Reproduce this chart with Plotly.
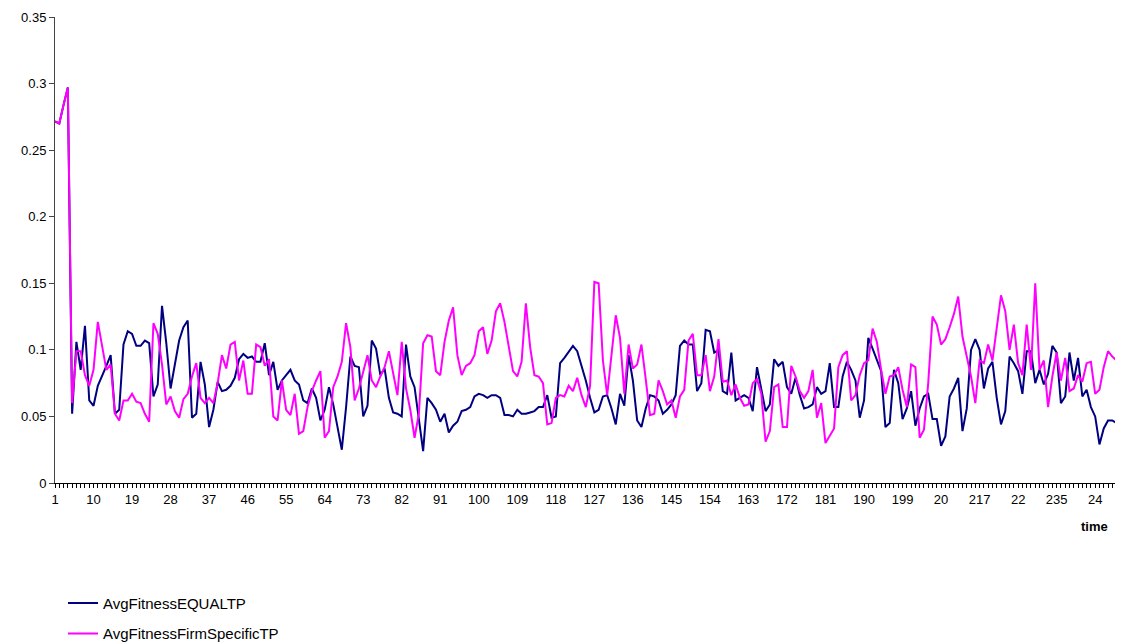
import plotly.graph_objects as go

time_idx = list(range(1, 251))

equal_tp = [
    0.2715, 0.270, 0.284, 0.297, 0.052, 0.106, 0.085, 0.118, 0.062, 0.058,
    0.073, 0.080, 0.088, 0.096, 0.052, 0.055, 0.104, 0.114, 0.112, 0.103,
    0.103, 0.107, 0.105, 0.065, 0.074, 0.133, 0.105, 0.071, 0.090, 0.107,
    0.117, 0.122, 0.049, 0.052, 0.091, 0.074, 0.042, 0.055, 0.076, 0.069,
    0.070, 0.073, 0.079, 0.093, 0.097, 0.094, 0.095, 0.091, 0.091, 0.105,
    0.081, 0.091, 0.070, 0.077, 0.081, 0.085, 0.077, 0.074, 0.062, 0.060,
    0.071, 0.064, 0.047, 0.055, 0.072, 0.059, 0.042, 0.025, 0.057, 0.095,
    0.088, 0.087, 0.050, 0.058, 0.107, 0.101, 0.081, 0.086, 0.064, 0.053,
    0.052, 0.050, 0.104, 0.080, 0.072, 0.047, 0.024, 0.064, 0.060, 0.055,
    0.046, 0.052, 0.038, 0.043, 0.046, 0.054, 0.055, 0.057, 0.065, 0.067,
    0.066, 0.064, 0.066, 0.066, 0.064, 0.051, 0.051, 0.050, 0.055, 0.052,
    0.052, 0.053, 0.054, 0.057, 0.057, 0.066, 0.049, 0.050, 0.090, 0.094,
    0.099, 0.103, 0.099, 0.088, 0.077, 0.064, 0.053, 0.055, 0.065, 0.066,
    0.056, 0.044, 0.067, 0.058, 0.096, 0.077, 0.047, 0.042, 0.056, 0.066,
    0.065, 0.062, 0.052, 0.055, 0.059, 0.066, 0.103, 0.107, 0.104, 0.104,
    0.069, 0.075, 0.115, 0.114, 0.098, 0.100, 0.069, 0.067, 0.098, 0.062,
    0.064, 0.066, 0.064, 0.054, 0.087, 0.070, 0.054, 0.059, 0.093, 0.088,
    0.091, 0.072, 0.067, 0.079, 0.066, 0.056, 0.057, 0.059, 0.072, 0.067,
    0.069, 0.090, 0.057, 0.057, 0.080, 0.091, 0.085, 0.077, 0.049, 0.062,
    0.109, 0.101, 0.092, 0.084, 0.042, 0.045, 0.085, 0.075, 0.048, 0.056,
    0.069, 0.043, 0.056, 0.065, 0.067, 0.048, 0.048, 0.028, 0.035, 0.065,
    0.071, 0.079, 0.039, 0.056, 0.100, 0.108, 0.100, 0.071, 0.086, 0.091,
    0.064, 0.044, 0.054, 0.095, 0.090, 0.084, 0.067, 0.099, 0.099, 0.075,
    0.085, 0.074, 0.082, 0.103, 0.098, 0.060, 0.065, 0.098, 0.077, 0.094,
    0.065, 0.070, 0.057, 0.050, 0.029, 0.041, 0.047, 0.047, 0.045, 0.055,
]

firm_specific_tp = [
    0.2715, 0.270, 0.284, 0.297, 0.060, 0.099, 0.099, 0.081, 0.073, 0.085,
    0.121, 0.104, 0.085, 0.089, 0.052, 0.047, 0.062, 0.062, 0.067, 0.061,
    0.060, 0.052, 0.046, 0.120, 0.112, 0.089, 0.059, 0.065, 0.054, 0.049,
    0.063, 0.067, 0.080, 0.090, 0.064, 0.060, 0.064, 0.060, 0.075, 0.096,
    0.086, 0.104, 0.106, 0.077, 0.092, 0.067, 0.067, 0.104, 0.102, 0.088,
    0.093, 0.050, 0.047, 0.077, 0.055, 0.051, 0.067, 0.037, 0.039, 0.057,
    0.069, 0.077, 0.084, 0.034, 0.039, 0.072, 0.080, 0.091, 0.120, 0.102,
    0.062, 0.071, 0.083, 0.096, 0.077, 0.072, 0.080, 0.087, 0.099, 0.082,
    0.066, 0.106, 0.071, 0.055, 0.034, 0.052, 0.105, 0.111, 0.110, 0.084,
    0.081, 0.106, 0.122, 0.132, 0.096, 0.081, 0.088, 0.090, 0.096, 0.114,
    0.117, 0.097, 0.107, 0.129, 0.135, 0.121, 0.104, 0.084, 0.080, 0.091,
    0.135, 0.102, 0.081, 0.080, 0.075, 0.044, 0.045, 0.064, 0.066, 0.065,
    0.073, 0.069, 0.079, 0.066, 0.057, 0.073, 0.151, 0.150, 0.092, 0.066,
    0.096, 0.126, 0.109, 0.067, 0.104, 0.086, 0.089, 0.104, 0.078, 0.051,
    0.052, 0.077, 0.069, 0.059, 0.062, 0.049, 0.065, 0.070, 0.107, 0.112,
    0.081, 0.081, 0.096, 0.069, 0.080, 0.108, 0.076, 0.077, 0.066, 0.074,
    0.064, 0.058, 0.059, 0.075, 0.078, 0.067, 0.031, 0.039, 0.072, 0.074,
    0.042, 0.042, 0.088, 0.080, 0.069, 0.064, 0.069, 0.085, 0.049, 0.060,
    0.030, 0.035, 0.041, 0.087, 0.096, 0.099, 0.062, 0.066, 0.081, 0.090,
    0.092, 0.116, 0.106, 0.085, 0.067, 0.080, 0.081, 0.087, 0.070, 0.057,
    0.089, 0.087, 0.034, 0.040, 0.075, 0.125, 0.119, 0.104, 0.108, 0.117,
    0.127, 0.140, 0.110, 0.095, 0.080, 0.060, 0.092, 0.090, 0.104, 0.092,
    0.117, 0.141, 0.129, 0.100, 0.119, 0.090, 0.081, 0.119, 0.085, 0.150,
    0.085, 0.092, 0.057, 0.080, 0.098, 0.077, 0.094, 0.069, 0.071, 0.081,
    0.076, 0.090, 0.091, 0.067, 0.070, 0.087, 0.099, 0.095, 0.092, 0.098,
]

tick_vals = list(range(1, 251, 9))
tick_text = ["1", "10", "19", "28", "37", "46", "55", "64", "73", "82",
             "91", "100", "109", "118", "127", "136", "145", "154", "163",
             "172", "181", "190", "199", "20", "217", "22", "235", "24"]

FONT = "Arial, Liberation Sans, sans-serif"

fig = go.Figure()
fig.add_trace(go.Scatter(
    x=time_idx, y=equal_tp, mode="lines", name="AvgFitnessEQUALTP",
    line=dict(color="#000080", width=2), legendgroup="a",
))
fig.add_trace(go.Scatter(
    x=time_idx, y=firm_specific_tp, mode="lines", name="AvgFitnessFirmSpecificTP",
    line=dict(color="#FF00FF", width=2), legendgroup="b",
))

fig.update_layout(
    width=1123, height=643,
    margin=dict(l=47, r=8, t=9, b=168, autoexpand=False),
    paper_bgcolor="white", plot_bgcolor="white",
    font=dict(family=FONT, size=13, color="black"),
    showlegend=True,
    legend=dict(
        xref="container", yref="container",
        x=0.049, y=0.10, xanchor="left", yanchor="top",
        font=dict(family=FONT, size=15, color="black"),
        tracegroupgap=8, bgcolor="rgba(0,0,0,0)",
    ),
    annotations=[dict(
        text="<b>time</b>", xref="paper", yref="paper",
        x=0.973, y=-0.094, xanchor="center", yanchor="middle",
        showarrow=False, font=dict(family=FONT, size=13, color="black"),
    )],
)

fig.update_xaxes(
    range=[1, 250.5], tickmode="array", tickvals=tick_vals, ticktext=tick_text,
    showgrid=False, zeroline=False, showline=True, linecolor="black", linewidth=1,
    ticks="outside", ticklen=4, tickcolor="black",
    minor=dict(dtick=1, tick0=1, ticks="outside", ticklen=4, tickcolor="black", showgrid=False),
    tickfont=dict(family=FONT, size=13),
)
fig.update_yaxes(
    range=[0, 0.35], dtick=0.05, tick0=0,
    showgrid=False, zeroline=False, showline=True, linecolor="#444444", linewidth=1,
    ticks="outside", ticklen=5, tickcolor="#444444",
    tickfont=dict(family=FONT, size=13),
)

fig.write_html("out.html")
